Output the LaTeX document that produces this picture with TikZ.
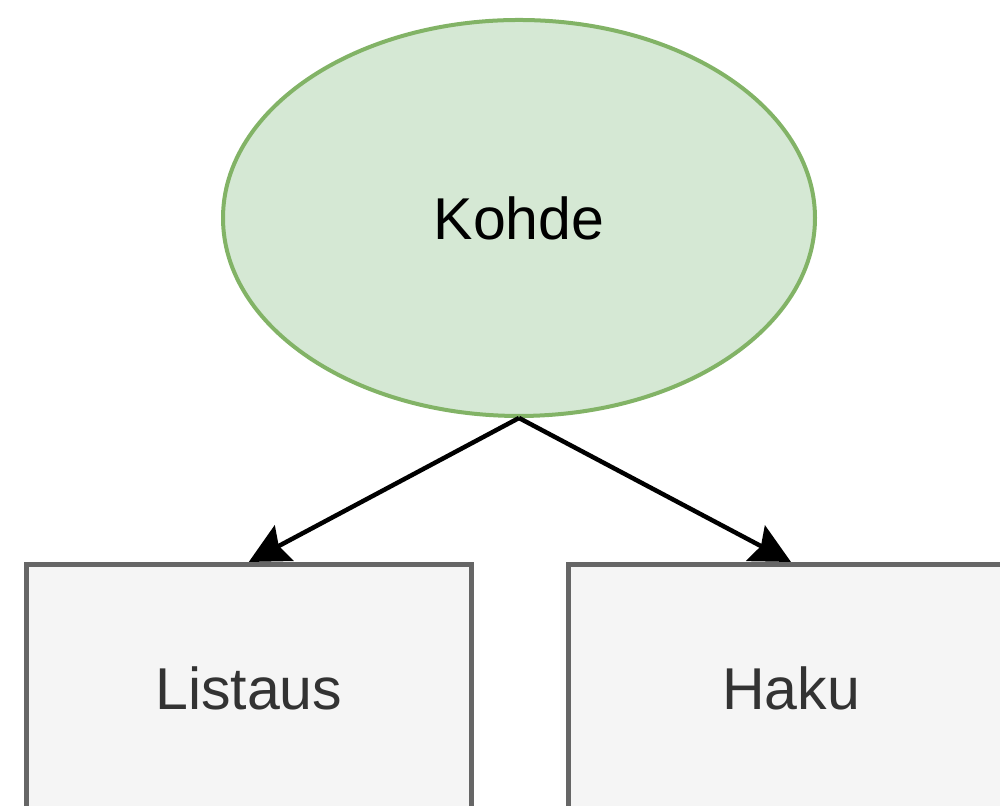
\documentclass[tikz,border=0pt]{standalone}
\usepackage{fontspec}
\setmainfont{Liberation Sans}
\usetikzlibrary{shapes.geometric,arrows.meta}

\definecolor{greenfill}{HTML}{D5E8D4}
\definecolor{greenline}{HTML}{82B366}
\definecolor{grayfill}{HTML}{F5F5F5}
\definecolor{grayline}{HTML}{666666}
\definecolor{graytext}{HTML}{333333}

\begin{document}
\begin{tikzpicture}[
    bigtext/.style={font=\fontsize{33.6}{40}\selectfont},
    target/.style={ellipse, draw=greenline, fill=greenfill, line width=0.08cm,
        minimum width=11.84cm, minimum height=7.92cm, inner sep=0pt, bigtext},
    viewbox/.style={rectangle, draw=grayline, fill=grayfill, line width=0.1cm,
        minimum width=8.89cm, minimum height=4.96cm, inner sep=0pt,
        text=graytext, bigtext},
    link/.style={line width=0.09cm,
        -{Stealth[length=0.8cm, width=0.8cm, inset=0.12cm]}}
]
    % Canvas
    \useasboundingbox (0,0) rectangle (20,16.12);
    \clip (0,0) rectangle (20,16.12);

    % Top ellipse
    \node[target] (kohde) at (10.38, 11.76) {Kohde};

    % Boxes below (cut at the lower edge)
    \node[viewbox] (listaus) at (4.975, 2.35) {Listaus};
    \node[viewbox] (haku) at (15.82, 2.35) {Haku};

    % Arrows
    \draw[link] (kohde.south) -- (listaus.north);
    \draw[link] (kohde.south) -- (haku.north);
\end{tikzpicture}
\end{document}
